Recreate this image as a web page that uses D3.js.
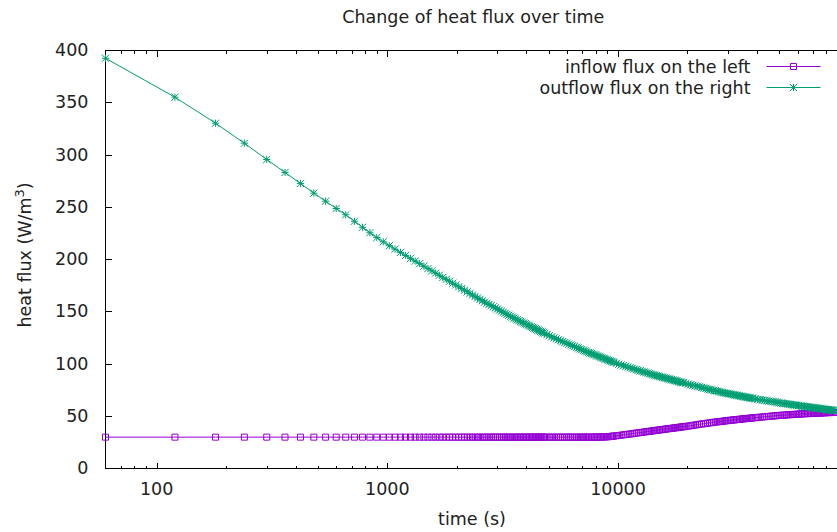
<!DOCTYPE html>
<html><head><meta charset="utf-8">
<script src="https://cdn.jsdelivr.net/npm/d3@7"></script>
<style>
html,body{margin:0;padding:0;background:#fff;}
svg{display:block;font-family:"DejaVu Sans",sans-serif;}
</style></head><body>
<svg id="chart" width="837" height="532"></svg>
<script>
// ---- data ----
const timeS = [
  60,120,180,240,300,360,420,480,540,600,
  660,720,780,840,900,960,1020,1080,1140,1200,
  1260,1320,1380,1440,1500,1560,1620,1680,1740,1800,
  1860,1920,1980,2040,2100,2160,2220,2280,2340,2400,
  2460,2520,2580,2640,2700,2760,2820,2880,2940,3000,
  3060,3120,3180,3240,3300,3360,3420,3480,3540,3600,
  3660,3720,3780,3840,3900,3960,4020,4080,4140,4200,
  4260,4320,4380,4440,4500,4560,4620,4680,4740,4800,
  4920,5040,5160,5280,5400,5520,5640,5760,5880,6000,
  6120,6240,6360,6480,6600,6720,6840,6960,7080,7200,
  7320,7440,7560,7680,7800,7920,8040,8160,8280,8400,
  8520,8640,8760,8880,9000,9120,9240,9360,9480,9600,
  9840,10080,10320,10560,10800,11040,11280,11520,11760,12000,
  12240,12480,12720,12960,13200,13440,13680,13920,14160,14400,
  14640,14880,15120,15360,15600,15840,16080,16320,16560,16800,
  17040,17280,17520,17760,18000,18240,18480,18720,18960,19200,
  19680,20160,20640,21120,21600,22080,22560,23040,23520,24000,
  24480,24960,25440,25920,26400,26880,27360,27840,28320,28800,
  29280,29760,30240,30720,31200,31680,32160,32640,33120,33600,
  34080,34560,35040,35520,36000,36480,36960,37440,37920,38400,
  39360,40320,41280,42240,43200,44160,45120,46080,47040,48000,
  48960,49920,50880,51840,52800,53760,54720,55680,56640,57600,
  58560,59520,60480,61440,62400,63360,64320,65280,66240,67200,
  68160,69120,70080,71040,72000,72960,73920,74880,75840,76800,
  77760,78720,79680,80640,81600,82560,83520,84480,85440,86400
];
const inflowLeft = [
  30,30,30,30,30,30,30,30,30,30,
  30,30,30,30,30,30,30,30,30,30,
  30,30,30,30,30,30,30,30,30,30,
  30,30,30,30,30,30,30,30,30,30,
  30,30,30,30,30,30,30,30,30,30,
  30,30,30,30,30,30,30,30,30,30,
  30,30,30,30,30,30,30,30,30,30,
  30,30,30,30,30,30,30,30,30,30,
  30,30,30,30,30,30,30,30,30,30,
  30,30,30,30,30,30,30,30,30,30,
  30,30,30,30,30,30,30,30.1,30.1,30.1,
  30.2,30.2,30.3,30.3,30.4,30.5,30.6,30.8,30.9,31.1,
  31.3,31.6,31.9,32.2,32.5,32.8,33.0,33.3,33.6,33.9,
  34.1,34.4,34.6,34.9,35.1,35.4,35.6,35.8,36.0,36.3,
  36.5,36.7,36.9,37.1,37.3,37.5,37.7,37.9,38.1,38.3,
  38.4,38.6,38.8,39.0,39.1,39.3,39.5,39.7,39.8,40.0,
  40.3,40.6,40.9,41.3,41.6,42.0,42.3,42.6,42.8,43.1,
  43.4,43.7,43.9,44.2,44.4,44.6,44.8,45.0,45.2,45.4,
  45.6,45.8,46.0,46.2,46.3,46.5,46.6,46.8,46.9,47.1,
  47.2,47.4,47.5,47.7,47.8,47.9,48.0,48.2,48.3,48.4,
  48.6,48.9,49.1,49.3,49.5,49.7,49.9,50.1,50.2,50.4,
  50.6,50.8,50.9,51.0,51.1,51.3,51.4,51.5,51.6,51.7,
  51.8,51.9,52.0,52.1,52.2,52.3,52.4,52.5,52.5,52.6,
  52.6,52.7,52.8,52.9,52.9,53.0,53.0,53.1,53.1,53.2,
  53.3,53.4,53.4,53.5,53.5,53.5,53.5,53.6,53.6,53.7
];
const outflowRight = [
  392.6,355.3,330.4,311.3,295.7,283.3,272.8,263.5,255.8,248.8,
  242.8,236.6,230.8,225.6,221.0,216.9,213.2,209.9,206.8,203.9,
  201.1,198.5,196.0,193.6,191.3,189.1,187.0,184.9,182.9,181.0,
  179.2,177.3,175.6,173.9,172.2,170.6,169.0,167.5,166.0,164.6,
  163.2,161.8,160.5,159.3,158.1,157.0,155.9,154.8,153.7,152.6,
  151.5,150.5,149.5,148.5,147.5,146.6,145.7,144.8,143.9,143.1,
  142.3,141.5,140.7,140.0,139.2,138.5,137.8,137.1,136.4,135.7,
  135.0,134.4,133.7,133.1,132.4,131.8,131.2,130.6,130.0,129.4,
  128.2,127.1,126.0,125.0,124.1,123.2,122.3,121.4,120.6,119.8,
  119.0,118.2,117.4,116.7,115.9,115.2,114.5,113.8,113.1,112.4,
  111.7,111.1,110.5,109.9,109.3,108.8,108.2,107.7,107.1,106.6,
  106.0,105.5,105.0,104.5,104.0,103.5,103.0,102.5,102.0,101.5,
  100.6,99.8,99.1,98.4,97.7,97.1,96.4,95.8,95.2,94.6,
  94.0,93.5,92.9,92.3,91.8,91.3,90.7,90.2,89.7,89.3,
  88.9,88.5,88.1,87.7,87.3,86.9,86.5,86.1,85.7,85.4,
  85.0,84.7,84.3,84.0,83.6,83.3,82.9,82.6,82.3,82.0,
  81.3,80.7,80.1,79.6,79.1,78.6,78.1,77.6,77.1,76.6,
  76.1,75.7,75.2,74.8,74.4,74.0,73.6,73.2,72.8,72.4,
  72.1,71.8,71.5,71.2,70.9,70.6,70.3,70.1,69.8,69.5,
  69.2,69.0,68.7,68.5,68.2,68.0,67.7,67.5,67.3,67.1,
  66.6,66.2,65.8,65.5,65.2,64.9,64.5,64.2,63.9,63.6,
  63.3,63.0,62.7,62.4,62.1,61.9,61.6,61.4,61.1,60.9,
  60.7,60.5,60.2,60.0,59.8,59.6,59.4,59.2,59.0,58.8,
  58.6,58.4,58.2,58.1,57.9,57.7,57.5,57.4,57.2,57.0,
  56.8,56.7,56.5,56.4,56.2,56.1,56.0,55.9,55.7,55.6
];
const seriesNames = ["inflow flux on the left", "outflow flux on the right"];
const seriesColors = ["#9400d3", "#009e73"];
const xMajorTicks = [100, 1000, 10000];
const yTickValues = [0, 50, 100, 150, 200, 250, 300, 350, 400];
const titleText = "Change of heat flux over time";
const xLabelText = "time (s)";

// ---- layout ----
const FS = 17.5;
const svg = d3.select("#chart");
const plotL = 105.5, plotT = 50.5, plotB = 468.5, plotR = 848.7;
const x = d3.scaleLog().domain([60, 100000]).range([plotL, plotR]);
const y = d3.scaleLinear().domain([0, 400]).range([plotB, plotT]);

const xMinor = [];
[10, 100, 1000, 10000].forEach(dec => { for (let k = 2; k <= 9; k++) { const v = dec * k; if (v > 60 && v < 100000 && !xMajorTicks.includes(v)) xMinor.push(v); } });

const gAxes = svg.append("g").attr("shape-rendering", "crispEdges").attr("stroke", "#000").attr("stroke-width", 1);
const px = v => Math.round(x(v)) + 0.5;
const py = v => Math.round(y(v) - 0.5) + 0.5;

xMajorTicks.forEach(v => {
  gAxes.append("line").attr("x1", px(v)).attr("x2", px(v)).attr("y1", plotB).attr("y2", plotB - 6);
  gAxes.append("line").attr("x1", px(v)).attr("x2", px(v)).attr("y1", plotT).attr("y2", plotT + 6);
});
xMinor.forEach(v => {
  gAxes.append("line").attr("x1", px(v)).attr("x2", px(v)).attr("y1", plotB).attr("y2", plotB - 3);
  gAxes.append("line").attr("x1", px(v)).attr("x2", px(v)).attr("y1", plotT).attr("y2", plotT + 3);
});
yTickValues.forEach(v => {
  gAxes.append("line").attr("x1", plotL).attr("x2", plotL + 6).attr("y1", py(v)).attr("y2", py(v));
  gAxes.append("line").attr("x1", plotR).attr("x2", plotR - 6).attr("y1", py(v)).attr("y2", py(v));
});
gAxes.append("rect").attr("x", plotL).attr("y", plotT).attr("width", plotR - plotL).attr("height", plotB - plotT).attr("fill", "none");

const gLab = svg.append("g").attr("font-size", FS).attr("fill", "#222");
xMajorTicks.forEach(v => {
  gLab.append("text").attr("x", x(v)).attr("y", 494.5).attr("text-anchor", "middle").text(d3.format("d")(v));
});
yTickValues.forEach(v => {
  gLab.append("text").attr("x", 88.5).attr("y", y(v) + 5.5).attr("text-anchor", "end").text(v);
});

svg.append("text").attr("x", 473.3).attr("y", 23).attr("text-anchor", "middle").attr("font-size", FS).attr("fill", "#222").text(titleText);
svg.append("text").attr("x", 472).attr("y", 525).attr("text-anchor", "middle").attr("font-size", FS).attr("fill", "#222").text(xLabelText);
const yl = svg.append("text").attr("transform", "translate(31,255) rotate(-90)").attr("text-anchor", "middle").attr("font-size", FS).attr("fill", "#222");
yl.append("tspan").text("heat flux (W/m");
yl.append("tspan").attr("font-size", 13).attr("dy", -7).text("3");
yl.append("tspan").attr("dy", 7).text(")");

const data = [
  timeS.map((t, i) => ({ t, v: inflowLeft[i] })),
  timeS.map((t, i) => ({ t, v: outflowRight[i] }))
];
const markerPaths = [
  "M-3,-3h6v6h-6z",
  "M-3.6,0h7.2M0,-3.6v7.2M-3.6,-3.6l7.2,7.2M-3.6,3.6l7.2,-7.2"
];
const lineGen = d3.line().x(d => x(d.t)).y(d => y(d.v));
data.forEach((s, si) => {
  const g = svg.append("g");
  g.append("path").datum(s).attr("d", lineGen).attr("fill", "none").attr("stroke", seriesColors[si]).attr("stroke-width", 1);
  g.selectAll("path.mk").data(s).enter().append("path").attr("class", "mk")
    .attr("transform", d => `translate(${x(d.t)},${y(d.v)})`)
    .attr("d", markerPaths[si]).attr("fill", "none").attr("stroke", seriesColors[si]).attr("stroke-width", 1);
});

const legY = [66.5, 87.5];
seriesNames.forEach((name, i) => {
  svg.append("text").attr("x", 750.5).attr("y", legY[i] + 6).attr("text-anchor", "end").attr("font-size", FS).attr("fill", "#222").text(name);
  svg.append("line").attr("x1", 766.5).attr("x2", 820.5).attr("y1", legY[i]).attr("y2", legY[i]).attr("stroke", seriesColors[i]).attr("stroke-width", 1);
  svg.append("path").attr("transform", `translate(793.5,${legY[i]})`).attr("d", markerPaths[i]).attr("fill", "none").attr("stroke", seriesColors[i]).attr("stroke-width", 1);
});
</script>
</body></html>
